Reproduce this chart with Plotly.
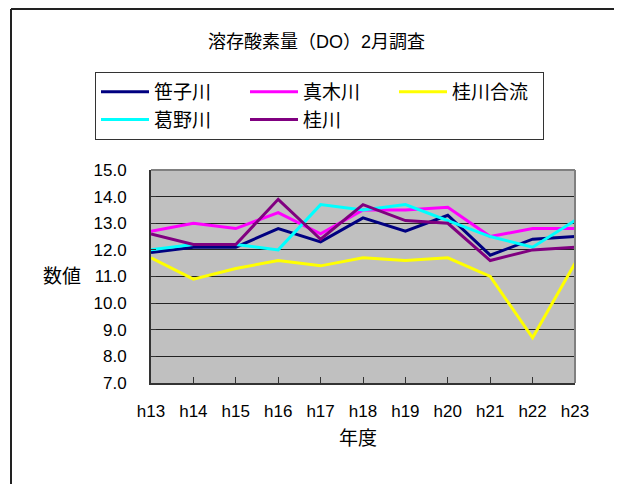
import plotly.graph_objects as go

years = ["h13", "h14", "h15", "h16", "h17", "h18", "h19", "h20", "h21", "h22", "h23"]
sasago = [11.9, 12.1, 12.1, 12.8, 12.3, 13.2, 12.7, 13.3, 11.8, 12.4, 12.5]
maki = [12.7, 13.0, 12.8, 13.4, 12.6, 13.5, 13.5, 13.6, 12.5, 12.8, 12.8]
katsura_goryu = [11.7, 10.9, 11.3, 11.6, 11.4, 11.7, 11.6, 11.7, 11.0, 8.7, 11.5]
kazuno = [12.0, 12.2, 12.2, 12.0, 13.7, 13.5, 13.7, 13.1, 12.5, 12.1, 13.1]
katsura = [12.6, 12.2, 12.2, 13.9, 12.4, 13.7, 13.1, 13.0, 11.6, 12.0, 12.1]

series = [
    ("笹子川", sasago, "#000080"),
    ("真木川", maki, "#FF00FF"),
    ("桂川合流", katsura_goryu, "#FFFF00"),
    ("葛野川", kazuno, "#00FFFF"),
    ("桂川", katsura, "#800080"),
]

FONT = "Liberation Sans, Arial, Noto Sans CJK JP, sans-serif"

OFF = 8  # page body margin
W, H = 622 - OFF, 484 - OFF
# plot area in page pixels: x 151..575, y 170..383
L, R, T, B = 151 - OFF, 622 - 575, 170 - OFF, 484 - 383
pw, ph = W - L - R, H - T - B

def px(x):
    return (x - OFF - L) / pw

def py(y):
    return (H - B - (y - OFF)) / ph

fig = go.Figure()
for name, vals, color in series:
    fig.add_trace(go.Scatter(x=years, y=vals, name=name, mode="lines",
                             line=dict(color=color, width=3)))

fig.update_layout(
    width=W, height=H,
    margin=dict(l=L, r=R, t=T, b=B, pad=0),
    paper_bgcolor="white",
    plot_bgcolor="#C0C0C0",
    font=dict(family=FONT, size=17, color="black"),
    showlegend=True,
    legend=dict(
        orientation="h",
        x=px(95), y=py(72), xanchor="left", yanchor="top",
        bordercolor="#333333", borderwidth=1, bgcolor="white",
        entrywidth=86, entrywidthmode="pixels", itemwidth=48,
        font=dict(family=FONT, size=19),
        tracegroupgap=0,
    ),
    xaxis=dict(
        type="category", range=[0, 10], showgrid=False,
        showline=True, linecolor="#333333", linewidth=2,
        ticks="inside", ticklen=6, tickcolor="#333333", tickwidth=1,
        ticklabelstandoff=12, tickfont=dict(size=17),
        zeroline=False,
    ),
    yaxis=dict(
        range=[7, 15], dtick=1, tickformat=".1f",
        showgrid=True, gridcolor="#222222", gridwidth=1,
        showline=True, linecolor="#333333", linewidth=2,
        ticks="inside", ticklen=5, tickcolor="#333333",
        ticklabelstandoff=19, tickfont=dict(size=17),
        zeroline=False,
    ),
    shapes=[
        dict(type="line", xref="paper", yref="paper", x0=0, x1=1, y0=1, y1=1,
             line=dict(color="#808080", width=2), layer="above"),
        dict(type="line", xref="paper", yref="paper", x0=1, x1=1, y0=0, y1=1,
             line=dict(color="#808080", width=2), layer="above"),
        dict(type="line", xref="paper", yref="paper", x0=px(11), x1=px(700), y0=py(9), y1=py(9),
             line=dict(color="#222222", width=2)),
        dict(type="line", xref="paper", yref="paper", x0=px(11), x1=px(11), y0=py(9), y1=py(560),
             line=dict(color="#222222", width=2)),
    ],
    annotations=[
        dict(text="溶存酸素量（DO）2月調査", xref="paper", yref="paper",
             x=px(316), y=py(42), xanchor="center", yanchor="middle",
             showarrow=False, font=dict(size=18)),
        dict(text="数値", xref="paper", yref="paper",
             x=px(62), y=py(276), xanchor="center", yanchor="middle",
             showarrow=False, font=dict(size=19)),
        dict(text="年度", xref="paper", yref="paper",
             x=px(358), y=py(438), xanchor="center", yanchor="middle",
             showarrow=False, font=dict(size=19)),
    ],
)

fig.write_html("out.html")
